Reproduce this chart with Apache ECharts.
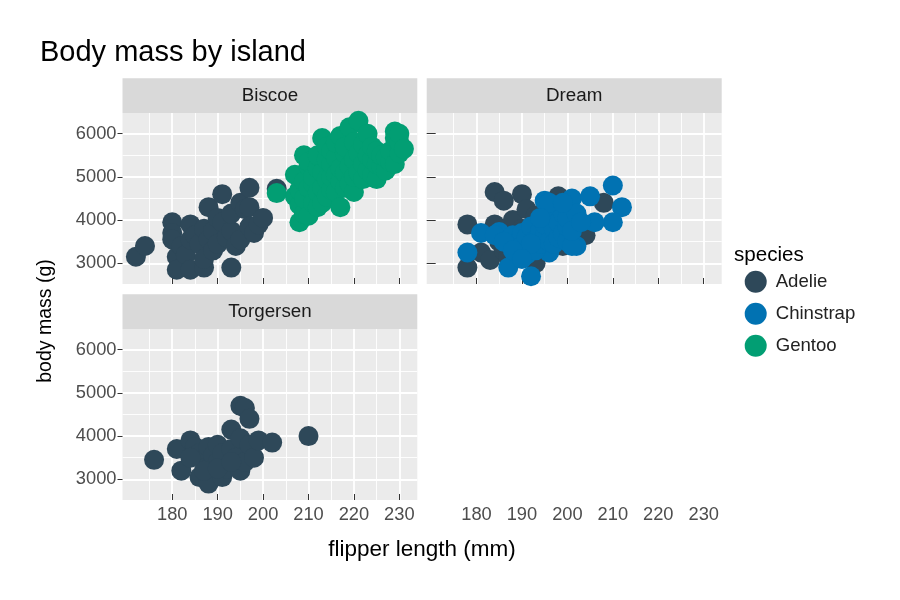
<!DOCTYPE html>
<html><head><meta charset="utf-8">
<script src="https://cdn.jsdelivr.net/npm/echarts@6/dist/echarts.min.js"></script>
<style>html,body{margin:0;padding:0;background:#fff}#c{width:900px;height:600px}</style>
</head><body><div id="c"></div>
<script>
const islands = ['Biscoe', 'Dream', 'Torgersen'];
const speciesNames = ['Adelie', 'Chinstrap', 'Gentoo'];
const xTicks = [180, 190, 200, 210, 220, 230];
const xMinor = [175, 185, 195, 205, 215, 225];
const yTicks = [3000, 4000, 5000, 6000];
const yMinor = [3500, 4500, 5500];

// [flipper length (mm), body mass (g)]
const biscoeAdelie = [
  [172,3150],[174,3400],[180,3950],[180,3700],[180,3550],[181,3150],[181,2850],[182,3400],
  [183,3200],[184,2850],[184,3900],[184,3550],[185,3650],[186,3450],[187,2900],[187,3800],
  [187,3100],[188,4300],[188,3550],[189,3750],[189,3300],[190,3450],[190,4050],[191,4600],
  [191,3950],[192,3600],[193,2900],[193,3750],[193,4150],[194,3400],[195,4400],[195,3550],
  [196,4250],[197,4750],[197,4300],[197,3850],[198,3700],[199,3900],[200,4050],[203,4725]
];
const biscoeGentoo = [
  [203,4625],[207,4550],[207,5050],[208,3950],[208,4350],[208,4700],[209,4150],[209,4500],
  [209,4900],[209,5500],[210,4100],[210,4750],[210,5250],[210,5350],[211,4400],[211,4850],
  [211,5000],[212,4300],[212,4650],[212,5200],[212,5500],[213,4400],[213,4750],[213,5900],
  [213,5100],[214,4550],[214,4950],[214,5400],[214,5700],[215,4700],[215,5000],[215,5300],
  [215,5600],[216,4650],[216,5050],[216,5450],[216,5800],[217,4300],[217,4900],[217,5200],
  [217,5950],[218,4750],[218,5100],[218,5550],[218,5700],[219,4850],[219,5250],[219,6150],
  [220,4650],[220,5000],[220,5400],[220,5800],[221,5100],[221,5550],[221,6300],[222,4950],
  [222,5300],[222,5750],[223,5150],[223,5500],[223,6000],[224,5050],[224,5400],[224,5700],
  [225,4950],[225,5300],[225,5600],[226,5250],[226,5500],[227,5150],[227,5450],[228,5350],
  [228,5600],[229,5300],[229,5900],[229,6050],[230,5550],[230,5800],[230,6000],[231,5650]
];
const dreamAdelie = [
  [178,3900],[178,2900],[181,3250],[183,3075],[184,3900],[184,4650],[186,4450],[190,4600],
  [188,4000],[191,4250],[193,3000],[198,4550],[208,4400],[204,3650],[185,3500],[186,3300],
  [187,3150],[189,3450],[190,3800],[190,3200],[191,3550],[192,3700],[193,3400],[193,4100],
  [194,3800],[195,3550],[195,4000],[196,3900],[196,3350],[197,3650],[198,4200],[199,3400],
  [200,3800],[201,3650],[202,4000]
];
const dreamChinstrap = [
  [178,3250],[181,3700],[185,3725],[187,2900],[192,2700],[191,3200],[187,3550],[195,4450],
  [201,4500],[205,4550],[210,4800],[212,4300],[210,3950],[206,3950],[202,3400],[196,3250],
  [188,3650],[189,3500],[190,3700],[190,3400],[191,3600],[192,3850],[193,3550],[193,3300],
  [194,3750],[194,3450],[195,3650],[195,3900],[196,3500],[196,4100],[197,3800],[197,3450],
  [197,4300],[198,3600],[198,3950],[199,3700],[199,4150],[200,3500],[200,3850],[200,4050],
  [201,3400],[201,3750],[202,4150],[203,3950],[196,4400],[199,4400],[194,4050],[192,3450],
  [184,3650],[186,3500],[188,3300],[190,3100]
];
const torgersenAdelie = [
  [176,3450],[181,3700],[182,3200],[184,3900],[185,3750],[186,3050],[186,3600],[187,3450],
  [188,2900],[188,3300],[188,3750],[189,3550],[190,3800],[190,3400],[191,3050],[191,3600],
  [192,3250],[193,4150],[193,3700],[194,3500],[195,4700],[196,4650],[195,3200],[195,3950],
  [196,3400],[197,4400],[197,3800],[198,3500],[199,3900],[202,3850],[210,4000],[187,3200],
  [184,3500],[190,3250],[193,3400]
];

const colors = { Adelie: '#2E4859', Chinstrap: '#0172B2', Gentoo: '#029E73' };
const FONT = '"Liberation Sans", Arial, Helvetica, sans-serif';

const panels = [
  { left: 122.5, top: 113, width: 294.8, height: 171 },
  { left: 426.7, top: 113, width: 295, height: 171 },
  { left: 122.5, top: 329, width: 294.8, height: 171 }
];
const STRIP_H = 34.7;

const grids = panels.map(p => ({
  left: p.left, top: p.top, width: p.width, height: p.height,
  show: true, backgroundColor: '#EBEBEB', borderWidth: 0,
  containLabel: false, outerBoundsMode: 'none'
}));

const plain = v => String(v);
const xAxes = [], yAxes = [];
panels.forEach((p, g) => {
  const xLabelShow = g !== 0;
  const xMargin = g === 1 ? 222 : 6;
  xAxes.push({
    type: 'value', gridIndex: g, min: 169.05, max: 233.95, position: 'bottom',
    axisLine: { show: false },
    axisTick: { show: true, inside: true, length: 6, customValues: xTicks, lineStyle: { color: '#333333', width: 1 } },
    axisLabel: { show: xLabelShow, customValues: xTicks, formatter: plain, margin: xMargin, color: '#4D4D4D', fontSize: 18.3, fontFamily: FONT },
    splitLine: { show: true, lineStyle: { color: '#FFFFFF', width: 1.8 } }
  });
  yAxes.push({
    type: 'value', gridIndex: g, min: 2520, max: 6480, position: 'left',
    axisLine: { show: false },
    axisTick: { show: true, inside: g === 1, length: g === 1 ? 9 : 5, customValues: yTicks, lineStyle: { color: '#333333', width: 1 } },
    axisLabel: { show: g !== 1, customValues: yTicks, formatter: plain, margin: 6, color: '#4D4D4D', fontSize: 18.3, fontFamily: FONT },
    splitLine: { show: true, lineStyle: { color: '#FFFFFF', width: 1.8 } }
  });
});
panels.forEach((p, g) => {
  xAxes.push({
    type: 'value', gridIndex: g, min: 169.05, max: 233.95, position: 'top',
    axisLine: { show: false }, axisTick: { show: false, customValues: xMinor },
    axisLabel: { show: false, customValues: xMinor },
    splitLine: { show: true, lineStyle: { color: '#FFFFFF', width: 0.9 } }
  });
  yAxes.push({
    type: 'value', gridIndex: g, min: 2520, max: 6480, position: 'right',
    axisLine: { show: false }, axisTick: { show: false, customValues: yMinor },
    axisLabel: { show: false, customValues: yMinor },
    splitLine: { show: true, lineStyle: { color: '#FFFFFF', width: 0.9 } }
  });
});

function sc(name, g, data) {
  return {
    type: 'scatter', name: name, xAxisIndex: g, yAxisIndex: g, data: data,
    symbol: 'circle', symbolSize: 20,
    itemStyle: { color: colors[name], opacity: 1 },
    emphasis: { disabled: true }, silent: true
  };
}
const series = [
  sc('Adelie', 0, biscoeAdelie),
  sc('Gentoo', 0, biscoeGentoo),
  sc('Adelie', 1, dreamAdelie),
  sc('Chinstrap', 1, dreamChinstrap),
  sc('Adelie', 2, torgersenAdelie)
];

function txt(x, y, text, size, fill, align, rot) {
  return {
    type: 'text', x: x, y: y, rotation: rot || 0, silent: true,
    style: { text: text, fill: fill, font: size + 'px ' + FONT,
      textAlign: align, textVerticalAlign: 'middle', align: align, verticalAlign: 'middle' }
  };
}
const graphic = [];
panels.forEach((p, g) => {
  graphic.push({
    type: 'rect', silent: true,
    shape: { x: p.left, y: p.top - STRIP_H, width: p.width, height: STRIP_H },
    style: { fill: '#D9D9D9' }
  });
  graphic.push(txt(p.left + p.width / 2, p.top - STRIP_H / 2, islands[g], 18.8, '#1A1A1A', 'center'));
});
graphic.push(txt(40, 53, 'Body mass by island', 29, '#000000', 'left'));
graphic.push(txt(422, 550, 'flipper length (mm)', 22.5, '#000000', 'center'));
graphic.push(txt(46, 321, 'body mass (g)', 19.5, '#000000', 'center', Math.PI / 2));
graphic.push(txt(734, 255, 'species', 20.6, '#000000', 'left'));

const chart = echarts.init(document.getElementById('c'), null, { renderer: 'canvas' });
chart.setOption({
  animation: false,
  backgroundColor: '#FFFFFF',
  textStyle: { fontFamily: FONT },
  grid: grids,
  xAxis: xAxes,
  yAxis: yAxes,
  legend: {
    data: speciesNames, orient: 'vertical', left: 744.7, top: 270.7, padding: 0,
    itemWidth: 30, itemHeight: 22, itemGap: 10, icon: 'circle', selectedMode: false,
    textStyle: { fontSize: 18.6, color: '#222222', fontFamily: FONT }
  },
  graphic: graphic,
  series: series
});
</script></body></html>
